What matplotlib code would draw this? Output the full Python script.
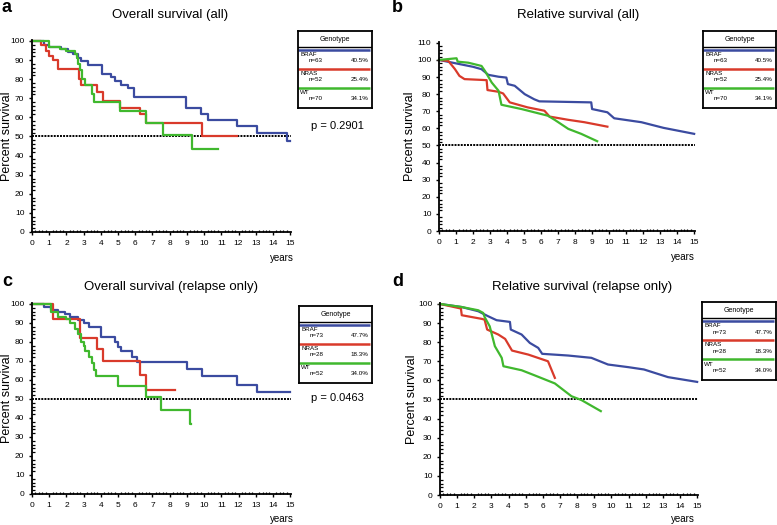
import numpy as np
import matplotlib
matplotlib.use("Agg")
import matplotlib.pyplot as plt
from matplotlib.ticker import MultipleLocator

plt.rcParams["font.family"] = ["Liberation Sans", "DejaVu Sans"]

# colours of the three genotypes
colors = ["#3b4ba0", "#d93a2b", "#40b82e"]
genotypes = ["BRAF", "NRAS", "WT"]

# legend numbers
n_all = [63, 52, 70]
pct_all = ["40.5%", "25.4%", "34.1%"]
n_rel = [73, 28, 52]
pct_rel = ["47.7%", "18.3%", "34.0%"]

# a: overall survival (all), Kaplan-Meier steps
a_braf_t = [0, 0.7, 1.0, 1.7, 2.1, 2.4, 2.65, 2.85, 3.25, 4.05, 4.6, 4.8, 5.2, 5.55, 5.95, 8.95, 9.8, 10.2, 11.9, 13.1, 14.8, 15.0]
a_braf_s = [100, 98, 97, 95.6, 94, 93, 91, 89.5, 87.3, 82.5, 81, 79, 77, 75.5, 70.5, 64.8, 61.8, 58.5, 55.4, 51.8, 47.6, 47.6]
a_nras_t = [0, 0.55, 0.8, 1.0, 1.2, 1.5, 2.75, 2.85, 3.8, 4.1, 5.1, 6.3, 6.6, 9.9, 11.9]
a_nras_s = [100, 98, 95, 92, 90, 85.5, 80, 77, 73.5, 68.5, 65, 62, 57, 50, 50]
a_wt_t = [0, 1.0, 1.6, 2.0, 2.5, 2.6, 2.7, 2.8, 2.9, 3.1, 3.5, 3.6, 5.1, 6.6, 7.6, 9.3, 10.8]
a_wt_s = [100, 97, 96, 95, 93, 91, 88, 85, 80, 77, 72, 68.3, 63.3, 57, 50.6, 43.5, 43.5]

# b: relative survival (all)
b_braf_t = [0, 1.0, 2.0, 2.5, 2.9, 3.5, 3.96, 4.05, 4.45, 5.04, 5.6, 5.9, 8.95, 9.0, 9.9, 10.3, 11.9, 13.2, 15.0]
b_braf_s = [100, 98, 96, 94.6, 91.3, 90.2, 89.7, 85.9, 84.9, 80, 77, 75.8, 75.2, 71.3, 69.4, 65.9, 63.6, 60.3, 56.8]
b_nras_t = [0, 0.55, 0.94, 1.2, 1.5, 2.8, 2.85, 3.5, 3.77, 4.16, 5.2, 6.2, 6.5, 7.6, 8.55, 9.9]
b_nras_s = [100, 99.4, 94.6, 90.7, 88.8, 88.2, 82.4, 81.4, 80.4, 75.2, 72.3, 70.3, 66.9, 65, 63.6, 61]
b_wt_t = [0, 1.03, 1.1, 1.72, 2.5, 2.7, 3.1, 3.5, 3.67, 4.85, 6.4, 6.8, 7.6, 8.36, 9.3]
b_wt_s = [100, 101, 99, 98.4, 96.5, 93.6, 86.8, 82, 73.8, 71.3, 67.4, 65, 59.7, 56.8, 52.5]

# c: overall survival (relapse only), Kaplan-Meier steps
c_braf_t = [0, 0.7, 1.1, 1.5, 1.9, 2.2, 2.7, 3.0, 3.3, 4.0, 4.8, 5.0, 5.2, 5.8, 6.1, 9.0, 9.9, 11.9, 13.1, 15.0]
c_braf_s = [100, 98.5, 97, 96, 94.5, 93, 91.5, 90, 88, 82.5, 80, 77.5, 75, 72, 69.3, 66, 62, 57.5, 53.5, 53.5]
c_nras_t = [0, 1.2, 2.8, 3.8, 4.1, 6.25, 6.6, 8.3]
c_nras_s = [100, 92, 82, 76.3, 70.2, 62.4, 54.7, 54.7]
c_wt_t = [0, 1.1, 1.5, 2.0, 2.2, 2.5, 2.7, 2.85, 3.0, 3.1, 3.3, 3.5, 3.6, 3.7, 5.0, 6.6, 7.5, 9.2, 9.25]
c_wt_s = [100, 96, 93, 92, 90, 87, 84, 80, 78, 75, 72, 69, 65, 62, 56.8, 51, 44, 37, 37]

# d: relative survival (relapse only)
d_braf_t = [0, 1.26, 2.23, 2.8, 3.3, 4.08, 4.13, 4.76, 5.24, 5.73, 5.96, 7.48, 8.83, 9.8, 11.0, 11.9, 13.3, 15.0]
d_braf_s = [100, 98.4, 96.2, 93.6, 91.5, 90.6, 86.6, 84, 79.6, 77, 73.9, 73, 71.8, 68.3, 66.9, 65.7, 61.7, 59.2]
d_nras_t = [0, 1.22, 1.27, 2.43, 2.6, 2.75, 3.4, 3.8, 4.2, 5.15, 6.3, 6.7]
d_nras_s = [100, 97.6, 94.1, 92.2, 91.8, 86.6, 84, 81.7, 75.6, 73.5, 70, 61.3]
d_wt_t = [0, 1.26, 2.23, 2.52, 2.6, 2.9, 3.2, 3.6, 3.7, 4.76, 5.5, 6.7, 7.67, 8.25, 9.38]
d_wt_s = [100, 98.4, 96.7, 95.3, 93.2, 88.3, 77.9, 71.8, 67.4, 65.3, 62.7, 58.4, 51.7, 49.7, 43.9]

W, H = 777, 525
fig = plt.figure(figsize=(W / 100, H / 100), dpi=100)


def px_rect(x0, y0, x1, y1):
    # pixel box (top-left origin) -> figure fraction rect
    return [x0 / W, 1 - y1 / H, (x1 - x0) / W, (y1 - y0) / H]


def setup_axes(x0, y0, x1, y1, ytop, label_x):
    ax = fig.add_axes(px_rect(x0, y0, x1, y1))
    ax.set_xlim(0, 15.05)
    ax.set_ylim(0, ytop)
    for s in ["top", "right"]:
        ax.spines[s].set_visible(False)
    for s in ["left", "bottom"]:
        ax.spines[s].set_linewidth(1.3)
    ax.xaxis.set_major_locator(MultipleLocator(1))
    ax.xaxis.set_minor_locator(MultipleLocator(0.2))
    ax.yaxis.set_major_locator(MultipleLocator(10))
    ax.yaxis.set_minor_locator(MultipleLocator(2))
    ax.tick_params(which="major", direction="out", length=2.5, width=1, labelsize=6, pad=3)
    ax.tick_params(which="minor", direction="in", length=1.8, width=0.9)
    ax.axhline(50, xmin=0, xmax=1, color="black", lw=1.4, ls=(0, (1, 0.6)), zorder=1)
    ax.set_ylabel("Percent survival", fontsize=9)
    ax.yaxis.set_label_coords((label_x - x0) / (x1 - x0), 0.5)
    return ax


def draw_legend(rect, ns, pcts):
    lg = fig.add_axes(rect)
    lg.set_xlim(0, 1)
    lg.set_ylim(0, 1)
    lg.set_xticks([])
    lg.set_yticks([])
    for s in lg.spines.values():
        s.set_linewidth(1.3)
    lg.axhline(0.795, color="black", lw=1.0)
    lg.text(0.5, 0.895, "Genotype", ha="center", va="center", fontsize=5)
    for i, (g, n, p) in enumerate(zip(genotypes, ns, pcts)):
        top = 0.755 - i * 0.245
        lg.plot([0.0, 0.97], [top, top], color=colors[i], lw=1.8, solid_capstyle="butt")
        lg.text(0.03, top - 0.06, g, ha="left", va="center", fontsize=4.5)
        lg.text(0.15, top - 0.14, "n=%d" % n, ha="left", va="center", fontsize=4.5)
        lg.text(0.95, top - 0.14, p, ha="right", va="center", fontsize=4.5)
    return lg


def panel_text(x, y, s, **kw):
    fig.text(x / W, 1 - y / H, s, **kw)


# panel a
ax_a = setup_axes(32, 40, 291, 232, 100.5, 13)
ax_a.step(a_braf_t, a_braf_s, where="post", color=colors[0], lw=1.6, clip_on=False)
ax_a.step(a_nras_t, a_nras_s, where="post", color=colors[1], lw=1.6, clip_on=False)
ax_a.step(a_wt_t, a_wt_s, where="post", color=colors[2], lw=1.6, clip_on=False)
draw_legend(px_rect(298, 31, 372, 108), n_all, pct_all)
panel_text(337, 126, "p = 0.2901", ha="center", va="center", fontsize=8)

# panel b
ax_b = setup_axes(439, 42, 695, 231, 110.5, 416)
ax_b.plot(b_braf_t, b_braf_s, color=colors[0], lw=1.6, clip_on=False)
ax_b.plot(b_nras_t, b_nras_s, color=colors[1], lw=1.6, clip_on=False)
ax_b.plot(b_wt_t, b_wt_s, color=colors[2], lw=1.6, clip_on=False)
draw_legend(px_rect(703, 31, 776, 108), n_all, pct_all)

# panel c
ax_c = setup_axes(32, 303, 291, 494, 100.5, 13)
ax_c.step(c_braf_t, c_braf_s, where="post", color=colors[0], lw=1.6, clip_on=False)
ax_c.step(c_nras_t, c_nras_s, where="post", color=colors[1], lw=1.6, clip_on=False)
ax_c.step(c_wt_t, c_wt_s, where="post", color=colors[2], lw=1.6, clip_on=False)
draw_legend(px_rect(299, 306, 372, 383), n_rel, pct_rel)
panel_text(337, 398, "p = 0.0463", ha="center", va="center", fontsize=8)

# panel d
ax_d = setup_axes(440, 303, 698, 495, 100.5, 418)
ax_d.plot(d_braf_t, d_braf_s, color=colors[0], lw=1.6, clip_on=False)
ax_d.plot(d_nras_t, d_nras_s, color=colors[1], lw=1.6, clip_on=False)
ax_d.plot(d_wt_t, d_wt_s, color=colors[2], lw=1.6, clip_on=False)
draw_legend(px_rect(702, 302, 776, 380), n_rel, pct_rel)

# titles, panel letters, "years"
panel_text(170, 15, "Overall survival (all)", ha="center", va="center", fontsize=9.5)
panel_text(578, 15, "Relative survival (all)", ha="center", va="center", fontsize=9.5)
panel_text(171, 287, "Overall survival (relapse only)", ha="center", va="center", fontsize=9.5)
panel_text(582, 287, "Relative survival (relapse only)", ha="center", va="center", fontsize=9.5)
panel_text(1, 8, "a", ha="left", va="center", fontsize=13, fontweight="bold")
panel_text(392, 8, "b", ha="left", va="center", fontsize=13, fontweight="bold")
panel_text(2, 282, "c", ha="left", va="center", fontsize=13, fontweight="bold")
panel_text(392, 281, "d", ha="left", va="center", fontsize=13, fontweight="bold")
for x, y in [(282, 258), (683, 257), (282, 519), (683, 519)]:
    panel_text(x, y, "years", ha="center", va="center", fontsize=7)

fig.savefig("out.png", dpi=100)
